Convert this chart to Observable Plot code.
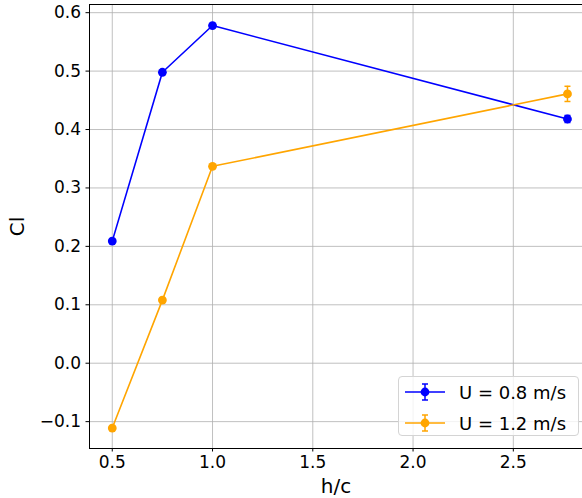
<!DOCTYPE html>
<html>
<head>
<meta charset="utf-8">
<script src="https://cdn.jsdelivr.net/npm/d3@7"></script>
<script src="https://cdn.jsdelivr.net/npm/@observablehq/plot@0.6"></script>
<style>
  body { margin: 0; background: #fff; overflow: hidden; font-family: "DejaVu Sans", sans-serif; }
  #chart { position: relative; width: 582px; height: 498px; }
  .legend {
    position: absolute; left: 398px; top: 376px; width: 181px; height: 60px;
    border: 1px solid #d4d4d4; border-radius: 4px; background: rgba(255,255,255,0.8);
    box-sizing: border-box;
  }
  .legend .row { position: absolute; left: 5px; height: 24px; display: flex; align-items: center; }
  .legend .row span { margin-left: 13px; font-size: 18px; color: #000; white-space: nowrap; }
</style>
</head>
<body>
<div id="chart"></div>
<script>
// Lift coefficient against gap ratio for two flow speeds
const hc = [0.5, 0.75, 1.0, 2.77];
const cl08 = [0.209, 0.498, 0.578, 0.418];
const err08 = [0.003, 0.003, 0.003, 0.006];
const cl12 = [-0.111, 0.108, 0.337, 0.461];
const err12 = [0.003, 0.003, 0.003, 0.013];
const seriesNames = ["U = 0.8 m/s", "U = 1.2 m/s"];
const seriesColors = ["#0000ff", "#ffa500"];
const xTicks = [0.5, 1.0, 1.5, 2.0, 2.5];
const yTicks = [-0.1, 0.0, 0.1, 0.2, 0.3, 0.4, 0.5, 0.6];

const rows = [];
[[cl08, err08], [cl12, err12]].forEach(([cl, err], s) => {
  hc.forEach((x, i) => rows.push({series: seriesNames[s], hc: x, cl: cl[i], lo: cl[i] - err[i], hi: cl[i] + err[i]}));
});

const xDomain = [0.3865, 2.845];
const yDomain = [-0.146, 0.614];

// horizontal cap for the error bars
const cap = { draw(context, size) { const r = Math.sqrt(size / Math.PI); context.moveTo(-r, 0); context.lineTo(r, 0); } };

const grid = {stroke: "#b0b0b0", strokeOpacity: 1, strokeWidth: 0.8};
const fmt = d3.format(".1f");

const chart = Plot.plot({
  width: 582,
  height: 498,
  marginLeft: 89,
  marginRight: 0,
  marginTop: 4,
  marginBottom: 50,
  style: {fontFamily: "DejaVu Sans, sans-serif", fontSize: "17px", color: "#000", background: "#fff"},
  x: {domain: xDomain},
  y: {domain: yDomain},
  color: {domain: seriesNames, range: seriesColors},
  marks: [
    Plot.gridX(xTicks, grid),
    Plot.gridY(yTicks, grid),
    Plot.ruleX(rows, {x: "hc", y1: "lo", y2: "hi", stroke: "series", strokeWidth: 1.5}),
    Plot.dot(rows, {x: "hc", y: "lo", symbol: cap, r: 3, stroke: "series", strokeWidth: 1.5}),
    Plot.dot(rows, {x: "hc", y: "hi", symbol: cap, r: 3, stroke: "series", strokeWidth: 1.5}),
    Plot.line(rows, {x: "hc", y: "cl", z: "series", stroke: "series", strokeWidth: 1.6}),
    Plot.dot(rows, {x: "hc", y: "cl", fill: "series", r: 4.4}),
    Plot.axisX(xTicks, {tickSize: 3.5, tickPadding: 4, tickFormat: fmt, label: "h/c", labelAnchor: "center", labelArrow: "none", labelOffset: 44, fontSize: 17}),
    Plot.axisY(yTicks, {tickSize: 3.5, tickPadding: 5, tickFormat: fmt, label: "Cl", labelAnchor: "center", labelArrow: "none", labelOffset: 80, fontSize: 17}),
    Plot.ruleX([xDomain[0]], {stroke: "#000", strokeWidth: 1}),
    Plot.ruleY([yDomain[0], yDomain[1]], {stroke: "#000", strokeWidth: 1})
  ]
});

// enlarge the axis titles
chart.querySelectorAll("g[aria-label='x-axis label'] text, g[aria-label='y-axis label'] text").forEach(t => t.setAttribute("font-size", 20));

const root = document.getElementById("chart");
root.appendChild(chart);

// legend: line, marker and error bar handle for each series
const legend = document.createElement("div");
legend.className = "legend";
seriesNames.forEach((name, i) => {
  const row = document.createElement("div");
  row.className = "row";
  row.style.top = (3 + i * 31) + "px";
  const c = seriesColors[i];
  row.innerHTML = `<svg width="42" height="24"><line x1="1" x2="41" y1="12" y2="12" stroke="${c}" stroke-width="1.6"/>` +
    `<line x1="21" x2="21" y1="4" y2="20" stroke="${c}" stroke-width="1.5"/>` +
    `<line x1="18" x2="24" y1="4" y2="4" stroke="${c}" stroke-width="1.5"/>` +
    `<line x1="18" x2="24" y1="20" y2="20" stroke="${c}" stroke-width="1.5"/>` +
    `<circle cx="21" cy="12" r="4.4" fill="${c}"/></svg><span>${name}</span>`;
  legend.appendChild(row);
});
root.appendChild(legend);
</script>
</body>
</html>
